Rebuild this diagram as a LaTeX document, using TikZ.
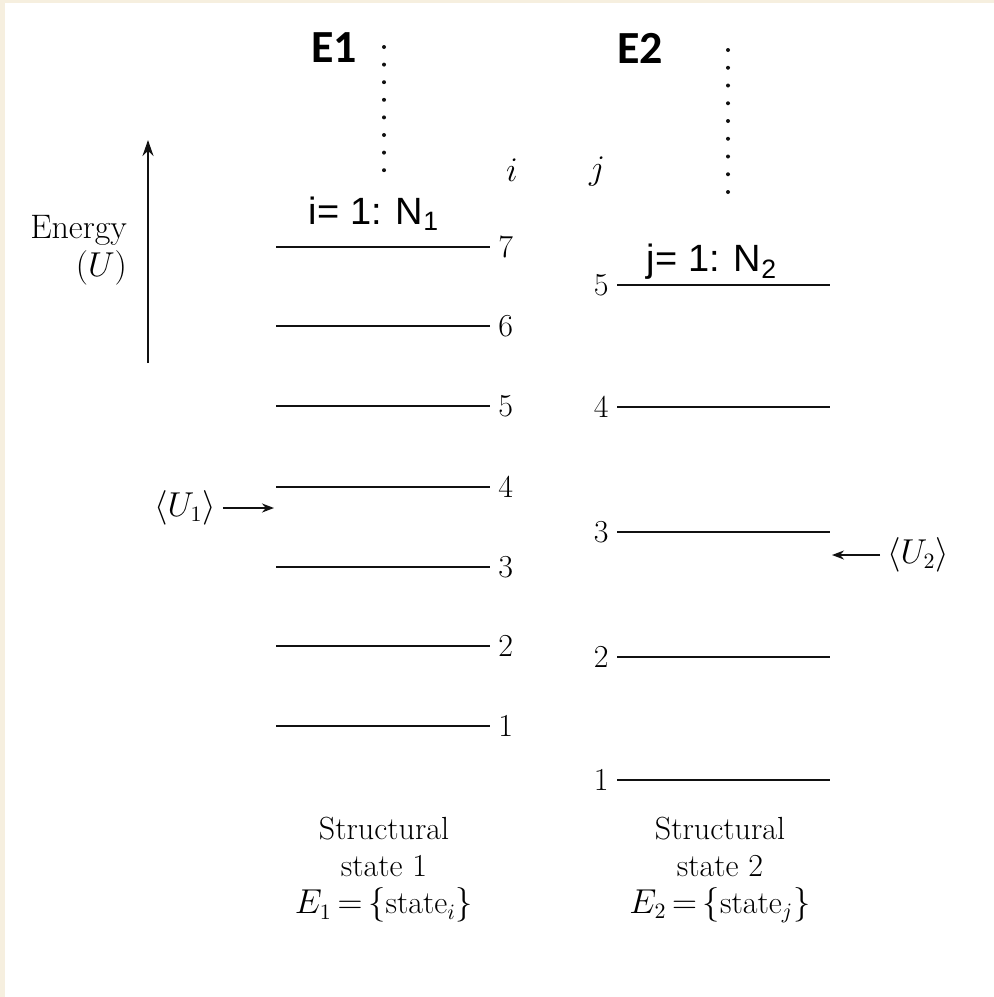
\documentclass[tikz,border=0pt]{standalone}
\usepackage{fontspec}
\usepackage{tikz}
\usetikzlibrary{arrows.meta,positioning}
\newfontfamily\labelsans{Liberation Sans}
\newfontfamily\headsans{Carlito}
\definecolor{paper}{HTML}{F6EFDF}
\definecolor{ink}{HTML}{111111}

\begin{document}
\begin{tikzpicture}[x=0.5pt,y=-0.5pt,
  level/.style={draw=ink,line width=1.35pt},
  num/.style={font=\fontsize{16}{19}\selectfont,inner sep=4pt},
  book/.style={font=\fontsize{16}{18.5}\selectfont,align=center},
  head/.style={font=\headsans\bfseries\fontsize{23}{27}\selectfont},
  rangetext/.style={font=\labelsans\fontsize{19}{22}\selectfont},
  vdots/.style={ink,line width=2pt,line cap=round},
  ptr/.style={-{Stealth[length=6pt,width=4.5pt]},line width=0.9pt,ink}]
\useasboundingbox (0,0) rectangle (994,997);
\fill[paper] (0,0) rectangle (994,997);
\fill[white] (5,3) rectangle (994,997);
% energy axis
\node[book,align=right,anchor=east,font=\fontsize{17}{19}\selectfont] (energy) at (134,250) {Energy\\$(U)$};
\coordinate (ebot) at (148,363);
\coordinate (etop) at (148,140);
\draw[ptr,line width=1.1pt,-{Stealth[length=8pt,width=5.5pt]}] (ebot)--(etop);
% structural state 1
\node[head] (E1) at (334,48) {E1};
\coordinate (d1top) at (384,47);
\coordinate (d1bot) at (384,173);
\draw[vdots,dash pattern=on 0pt off 8.8pt] (d1top)--(d1bot);
\node[num] (ilab) at (512,170) {$i$};
\node[rangetext] (irange) at (374,214) {i= 1: N\textsubscript{1}};
\foreach \n/\y in {7/247,6/326,5/406,4/487,3/567,2/646,1/726}{
  \coordinate (a\n) at (276,\y);
  \node[num,anchor=west] (la\n) at (490,\y) {\n};
  \draw[level] (a\n)--(la\n.west);
}
\node[book] (u1) at (185,508) {$\langle U_1\rangle$};
\coordinate (u1tip) at (274,508);
\draw[ptr] (u1.east)--(u1tip);
\node[book] (s1) at (384,870) {Structural\\state 1\\$E_1\,{=}\,\{\mbox{state}_i\}$};
% structural state 2
\node[head] (E2) at (640,48) {E2};
\coordinate (d2top) at (728,50);
\coordinate (d2bot) at (728,194);
\draw[vdots,dash pattern=on 0pt off 8.875pt] (d2top)--(d2bot);
\node[num] (jlab) at (597,172) {$j$};
\node[rangetext] (jrange) at (712,262) {j= 1: N\textsubscript{2}};
\foreach \n/\y in {5/285,4/407,3/532,2/657,1/780}{
  \coordinate (b\n) at (830,\y);
  \node[num,anchor=east] (lb\n) at (617,\y) {\n};
  \draw[level] (lb\n.east)--(b\n);
}
\node[book] (u2) at (918,555) {$\langle U_2\rangle$};
\coordinate (u2tip) at (832,555);
\draw[ptr] (u2.west)--(u2tip);
\node[book] (s2) at (720,870) {Structural\\state 2\\$E_2\,{=}\,\{\mbox{state}_j\}$};
\end{tikzpicture}
\end{document}
